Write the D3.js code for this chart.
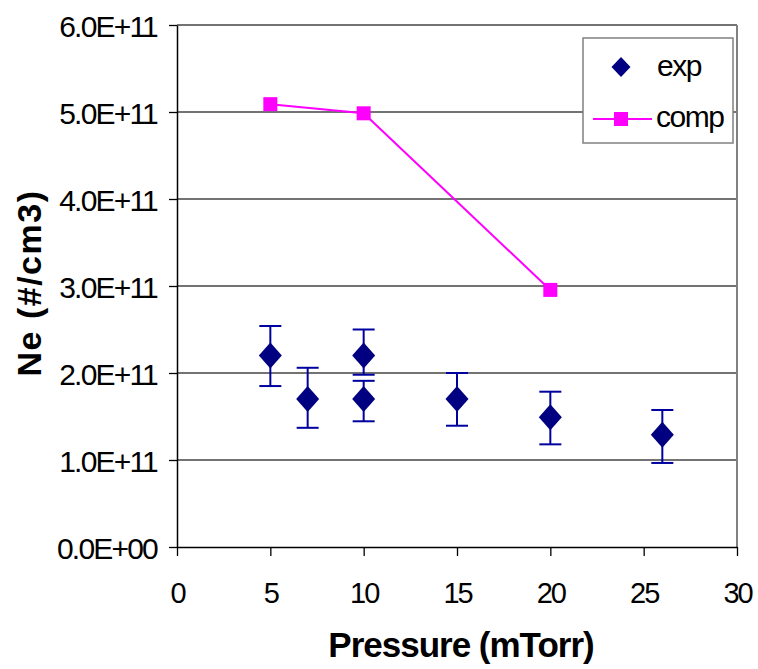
<!DOCTYPE html>
<html>
<head>
<meta charset="utf-8">
<script src="https://cdn.jsdelivr.net/npm/d3@7"></script>
<style>
  body { margin: 0; background: #fff; }
  svg { font-family: "Liberation Sans", Arial, sans-serif; }
</style>
</head>
<body>
<div id="chart"></div>
<script>
// data
const expPressure = [5, 7, 10, 10, 15, 20, 26];
const expNe = [2.2e11, 1.7e11, 2.2e11, 1.7e11, 1.7e11, 1.49e11, 1.29e11];
const expHigh = [2.54e11, 2.06e11, 2.50e11, 1.91e11, 2.0e11, 1.785e11, 1.575e11];
const expLow = [1.85e11, 1.37e11, 1.98e11, 1.445e11, 1.394e11, 1.18e11, 0.966e11];

const compPressure = [5, 10, 20];
const compNe = [5.09e11, 4.985e11, 2.955e11];

const xTicks = [0, 5, 10, 15, 20, 25, 30];
const yTicks = [0, 1e11, 2e11, 3e11, 4e11, 5e11, 6e11];
const yTickLabels = ["0.0E+00", "1.0E+11", "2.0E+11", "3.0E+11", "4.0E+11", "5.0E+11", "6.0E+11"];

const width = 758, height = 669;
const plot = { left: 177, right: 737, top: 25, bottom: 547 };

const svg = d3.select("#chart")
    .append("svg")
    .attr("width", width)
    .attr("height", height);

const x = d3.scaleLinear().domain([0, 30]).range([plot.left, plot.right]);
const y = d3.scaleLinear().domain([0, 6e11]).range([plot.bottom, plot.top]);

// gridlines
svg.append("g")
    .selectAll("line")
    .data(yTicks.slice(1))
    .join("line")
    .attr("x1", plot.left)
    .attr("x2", plot.right)
    .attr("y1", d => y(d))
    .attr("y2", d => y(d))
    .attr("stroke", "#444")
    .attr("stroke-width", 1.4);

// right border of plot area
svg.append("line")
    .attr("x1", plot.right).attr("x2", plot.right)
    .attr("y1", plot.top).attr("y2", plot.bottom)
    .attr("stroke", "#808080")
    .attr("stroke-width", 2);

// axes
const yAxis = svg.append("g")
    .attr("transform", `translate(${plot.left},0)`)
    .call(d3.axisLeft(y)
        .tickValues(yTicks)
        .tickFormat((d, i) => yTickLabels[i])
        .tickSize(8)
        .tickSizeOuter(0)
        .tickPadding(12));

const xAxis = svg.append("g")
    .attr("transform", `translate(0,${plot.bottom})`)
    .call(d3.axisBottom(x)
        .tickValues(xTicks)
        .tickSize(9)
        .tickSizeOuter(0));

[yAxis, xAxis].forEach(g => {
    g.select(".domain").attr("stroke", "#000").attr("stroke-width", 1.5);
    g.selectAll(".tick line").attr("stroke", "#000").attr("stroke-width", 1.3);
    g.selectAll("text")
        .attr("fill", "#000")
        .attr("font-family", "'Liberation Sans', Arial, sans-serif");
});

yAxis.selectAll("text")
    .attr("font-size", 30)
    .attr("letter-spacing", "-1.8px")
    .attr("dy", 11);

xAxis.selectAll("text")
    .attr("font-size", 29)
    .attr("letter-spacing", "-2px")
    .attr("y", 56)
    .attr("dy", 0);

// axis titles
svg.append("text")
    .attr("x", 461)
    .attr("y", 657)
    .attr("text-anchor", "middle")
    .attr("font-size", 35)
    .attr("font-weight", "bold")
    .attr("letter-spacing", "-1px")
    .text("Pressure (mTorr)");

svg.append("text")
    .attr("transform", "translate(41,283) rotate(-90)")
    .attr("text-anchor", "middle")
    .attr("font-size", 34)
    .attr("font-weight", "bold")
    .attr("letter-spacing", "1.5px")
    .text("Ne (#/cm3)");

// comp series
const compData = compPressure.map((p, i) => ({ p, v: compNe[i] }));

svg.append("path")
    .datum(compData)
    .attr("fill", "none")
    .attr("stroke", "#ff00ff")
    .attr("stroke-width", 2)
    .attr("d", d3.line().x(d => x(d.p)).y(d => y(d.v)));

svg.selectAll(".comp")
    .data(compData)
    .join("rect")
    .attr("class", "comp")
    .attr("x", d => x(d.p) - 7)
    .attr("y", d => y(d.v) - 7)
    .attr("width", 14)
    .attr("height", 14)
    .attr("fill", "#ff00ff");

// exp series with error bars
const expData = expPressure.map((p, i) => ({ p, v: expNe[i], hi: expHigh[i], lo: expLow[i] }));

const err = svg.append("g")
    .attr("stroke", "#0000a0")
    .attr("stroke-width", 2);

err.selectAll(".stem")
    .data(expData)
    .join("line")
    .attr("class", "stem")
    .attr("x1", d => x(d.p)).attr("x2", d => x(d.p))
    .attr("y1", d => y(d.hi)).attr("y2", d => y(d.lo));

err.selectAll(".capHi")
    .data(expData)
    .join("line")
    .attr("class", "capHi")
    .attr("x1", d => x(d.p) - 11).attr("x2", d => x(d.p) + 11)
    .attr("y1", d => y(d.hi)).attr("y2", d => y(d.hi));

err.selectAll(".capLo")
    .data(expData)
    .join("line")
    .attr("class", "capLo")
    .attr("x1", d => x(d.p) - 11).attr("x2", d => x(d.p) + 11)
    .attr("y1", d => y(d.lo)).attr("y2", d => y(d.lo));

const diamond = (cx, cy, w, h) =>
    `M${cx},${cy - h / 2}L${cx + w / 2},${cy}L${cx},${cy + h / 2}L${cx - w / 2},${cy}Z`;

svg.selectAll(".exp")
    .data(expData)
    .join("path")
    .attr("class", "exp")
    .attr("d", d => diamond(x(d.p), y(d.v), 23, 26))
    .attr("fill", "#000080");

// legend
const legend = svg.append("g");

legend.append("rect")
    .attr("x", 583)
    .attr("y", 38)
    .attr("width", 150)
    .attr("height", 105)
    .attr("fill", "#fff")
    .attr("stroke", "#808080")
    .attr("stroke-width", 1.5);

legend.append("path")
    .attr("d", diamond(621, 67, 19, 20))
    .attr("fill", "#000080");

legend.append("text")
    .attr("x", 657)
    .attr("y", 76)
    .attr("font-size", 30)
    .attr("letter-spacing", "-1.5px")
    .text("exp");

legend.append("line")
    .attr("x1", 593).attr("x2", 652)
    .attr("y1", 119).attr("y2", 119)
    .attr("stroke", "#ff00ff")
    .attr("stroke-width", 2);

legend.append("rect")
    .attr("x", 614)
    .attr("y", 112)
    .attr("width", 14)
    .attr("height", 14)
    .attr("fill", "#ff00ff");

legend.append("text")
    .attr("x", 656)
    .attr("y", 127)
    .attr("font-size", 30)
    .attr("letter-spacing", "-1.5px")
    .text("comp");
</script>
</body>
</html>
